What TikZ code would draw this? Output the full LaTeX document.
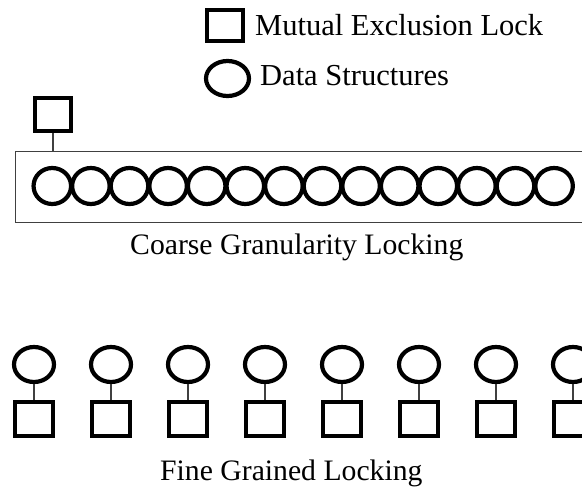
\documentclass[tikz,border=0pt]{standalone}
\usepackage{fontspec}
\setmainfont{Liberation Serif}
\usetikzlibrary{shapes.geometric}
\begin{document}
\begin{tikzpicture}[x=1pt,y=-1pt,
  lockbox/.style={draw=black,line width=4.2pt,rectangle,inner sep=0pt},
  datacirc/.style={draw=black,line width=4.2pt,ellipse,inner sep=0pt},
  thinline/.style={draw=black!75,line width=1.3pt},
  legendtext/.style={anchor=base west,inner sep=0pt,font=\fontsize{30.5}{36}\selectfont},
  captiontext/.style={anchor=base west,inner sep=0pt,font=\fontsize{29.7}{34}\selectfont}]
\clip (0,0) rectangle (582,488);
\fill[white] (0,0) rectangle (582,488);
% legend
\node[lockbox,minimum width=36pt,minimum height=31pt] (legsq) at (225,25.5) {};
\node[legendtext] (legsqtext) at (255,35) {Mutual Exclusion Lock};
\node[datacirc,minimum width=43pt,minimum height=35pt] (legci) at (227.5,78.5) {};
\node[legendtext] (legcitext) at (260,85) {Data Structures};
% coarse
\node[draw=black!75,line width=1.3pt,rectangle,inner sep=0pt,anchor=north west,minimum width=600pt,minimum height=71pt] (cbox) at (15,151) {};
\node[lockbox,minimum width=36pt,minimum height=33pt] (clock) at (53,114.5) {};
\draw[thinline] (clock.south) -- (clock.south |- cbox.north);
\foreach \i in {0,...,13}{
  \node[datacirc,minimum width=37.5pt,minimum height=36pt] (cc\i) at (52.3+38.6*\i,186) {};
}
\node[captiontext] (ccap) at (130,254) {Coarse Granularity Locking};
% fine
\foreach \i in {0,...,7}{
  \node[datacirc,minimum width=40pt,minimum height=35pt] (fc\i) at (34+77*\i,364.5) {};
  \node[lockbox,minimum width=38pt,minimum height=34pt] (fl\i) at (34+77*\i,419) {};
  \draw[thinline] (fc\i.south) -- (fl\i.north);
}
\node[captiontext] (fcap) at (160,480) {Fine Grained Locking};
\end{tikzpicture}
\end{document}
